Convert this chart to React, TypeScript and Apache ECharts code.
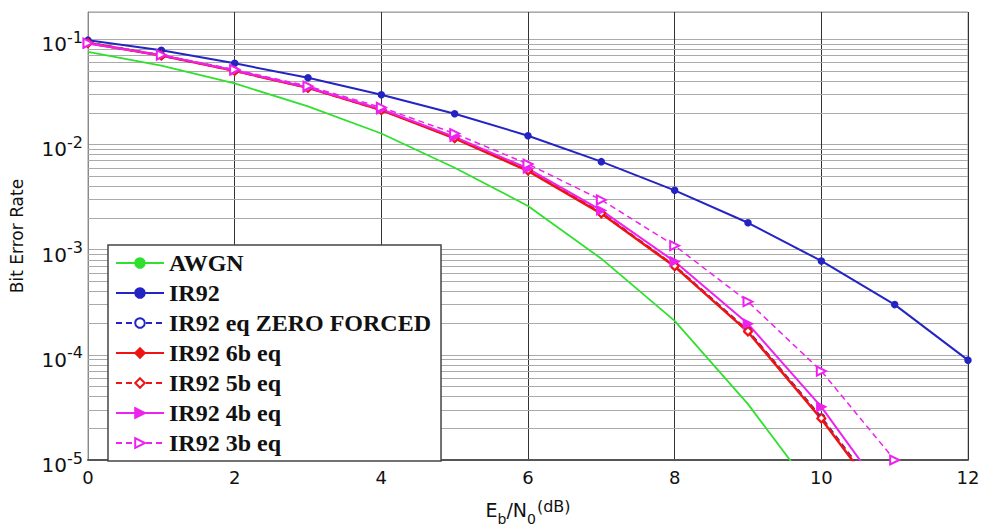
import React, { useEffect, useRef } from "react";
import * as echarts from "echarts";

const ebN0 = [0, 1, 2, 3, 4, 5, 6, 7, 8, 9, 10, 11, 12];
const awgn = [0.076, 0.056, 0.038, 0.023, 0.0127, 0.006, 0.0026, 0.00082, 0.00021, 0.000034, 0.000004];
const ir92 = [0.098, 0.0786, 0.059, 0.043, 0.0297, 0.0196, 0.0121, 0.00686, 0.00366, 0.0018, 0.00078, 0.0003, 0.000089];
const ir92zf = [0.093, 0.07, 0.0505, 0.0347, 0.0214, 0.0116, 0.0057, 0.00224, 0.0007, 0.00017, 0.0000255, 0.0000031];
const ir92b6 = [0.092, 0.07, 0.05, 0.0345, 0.0212, 0.0114, 0.0056, 0.0022, 0.00069, 0.000165, 0.0000245, 0.0000029];
const ir92b5 = [0.092, 0.07, 0.05, 0.0345, 0.0212, 0.0115, 0.0057, 0.00222, 0.0007, 0.000168, 0.000025, 0.000003];
const ir92b4 = [0.091, 0.0705, 0.0505, 0.0348, 0.0216, 0.0118, 0.0059, 0.00236, 0.00077, 0.000197, 0.000032, 0.0000035];
const ir92b3 = [0.092, 0.071, 0.0515, 0.0358, 0.0225, 0.0127, 0.0065, 0.00297, 0.00109, 0.00032, 0.00007, 0.00001];
const xTicks = [0, 2, 4, 6, 8, 10, 12];
const decades = [-5, -4, -3, -2, -1];
const minorMult = [2, 3, 4, 5, 6, 7, 8, 9];

const pairs = (ys: number[]) => ys.map((y, i) => [ebN0[i], y]);

export default function App() {
  const ref = useRef<HTMLDivElement>(null);
  useEffect(() => {
    if (!ref.current) return;
    const chart = echarts.init(ref.current, undefined, { renderer: "svg" });
    const minorLines: any[] = [];
    decades.slice(0, 4).forEach((d) => {
      minorMult.forEach((m) => minorLines.push({ yAxis: m * Math.pow(10, d) }));
    });
    const legendText = { fontFamily: "Liberation Serif", fontWeight: "bold", fontSize: 24, lineHeight: 21, color: "#111" };
    const mk = (name: string, data: number[], color: string, width: number, dashed: boolean, symbol: string, size: number, rotate = 0, extra: any = {}) => ({
      name,
      type: "line",
      data: pairs(data),
      symbol,
      symbolSize: size,
      symbolRotate: rotate,
      showSymbol: symbol !== "none",
      lineStyle: { color, width, type: dashed ? [6, 4] : "solid" },
      itemStyle: { color, borderColor: color, borderWidth: 1.5 },
      emphasis: { disabled: true },
      ...extra,
    });
    chart.setOption({
      animation: false,
      backgroundColor: "#fff",
      grid: { left: 85, right: 16, top: 12, bottom: 59, show: true, borderColor: "#999", borderWidth: 1 },
      legend: {
        orient: "vertical",
        left: 108,
        top: 245,
        z: 10,
        itemWidth: 48,
        itemHeight: 12,
        itemGap: 6,
        padding: [6, 10, 6, 7],
        borderColor: "#444",
        borderWidth: 1.5,
        backgroundColor: "#fff",
        textStyle: legendText,
        selectedMode: false,
        data: ["AWGN", "IR92", "IR92 eq ZERO FORCED", "IR92 6b eq", "IR92 5b eq", "IR92 4b eq", "IR92 3b eq"],
      },
      xAxis: {
        type: "value",
        min: 0,
        max: 12,
        interval: 2,
        axisLine: { lineStyle: { color: "#555", width: 2 } },
        axisTick: { show: false },
        axisLabel: {
          fontFamily: "DejaVu Sans",
          fontSize: 18,
          color: "#111",
          margin: 8,
          formatter: (v: number) => (xTicks.includes(v) ? String(v) : ""),
        },
        splitLine: { show: true, lineStyle: { color: "#333", width: 1 } },
        name: "{e|E}{sub|b}{e|/N}{sub|0}{u|(dB)}",
        nameLocation: "middle",
        nameGap: 40,
        nameTextStyle: {
          rich: {
            e: { fontFamily: "DejaVu Sans", fontSize: 19, color: "#111", lineHeight: 20, verticalAlign: "top" },
            sub: { fontFamily: "DejaVu Sans", fontSize: 14, color: "#111", lineHeight: 14, padding: [12, 0, 0, 0], verticalAlign: "top" },
            u: { fontFamily: "DejaVu Sans", fontSize: 16, color: "#111", lineHeight: 18, verticalAlign: "top", padding: [-2, 0, 0, 1] },
          },
        },
      },
      yAxis: {
        type: "log",
        min: 1e-5,
        max: 0.1815,
        axisLine: { show: true, lineStyle: { color: "#888", width: 1 } },
        axisTick: { show: false },
        splitLine: { show: true, lineStyle: { color: "#aaa", width: 1 } },
        axisLabel: {
          margin: 5,
          formatter: (v: number) => {
            const e = Math.round(Math.log10(v));
            if (Math.abs(Math.log10(v) - e) > 1e-6) return "";
            return "{b|10}{s|" + e + "}";
          },
          rich: {
            b: { fontFamily: "DejaVu Sans", fontSize: 20, color: "#111", lineHeight: 20, padding: [10, 0, 0, 0] },
            s: { fontFamily: "DejaVu Sans", fontSize: 16, color: "#111", lineHeight: 16, verticalAlign: "top" },
          },
        },
        name: "Bit Error Rate",
        nameLocation: "middle",
        nameGap: 63,
        nameTextStyle: { fontFamily: "DejaVu Sans", fontSize: 17, color: "#111" },
      },
      series: [
        mk("AWGN", awgn, "#2fe02f", 1.8, false, "none", 0, 0, {
          markLine: {
            silent: true,
            precision: 12,
            z: 1,
            symbol: ["none", "none"],
            label: { show: false },
            lineStyle: { color: "#aaa", width: 1, type: "solid" },
            emphasis: { disabled: true },
            data: minorLines,
          },
        }),
        mk("IR92", ir92, "#2424c4", 2, false, "circle", 6),
        mk("IR92 eq ZERO FORCED", ir92zf, "#2424c4", 2, true, "emptyCircle", 6),
        mk("IR92 6b eq", ir92b6, "#ee1414", 2.5, false, "diamond", 8),
        mk("IR92 5b eq", ir92b5, "#ee1414", 2, true, "emptyDiamond", 8),
        mk("IR92 4b eq", ir92b4, "#ee22ee", 2, false, "triangle", 9, -90),
        mk("IR92 3b eq", ir92b3, "#ee22ee", 1.5, true, "emptyTriangle", 9, -90),
      ],
    });
    return () => chart.dispose();
  }, []);
  return <div ref={ref} style={{ position: "fixed", left: 0, top: 0, width: 984, height: 531 }} />;
}
